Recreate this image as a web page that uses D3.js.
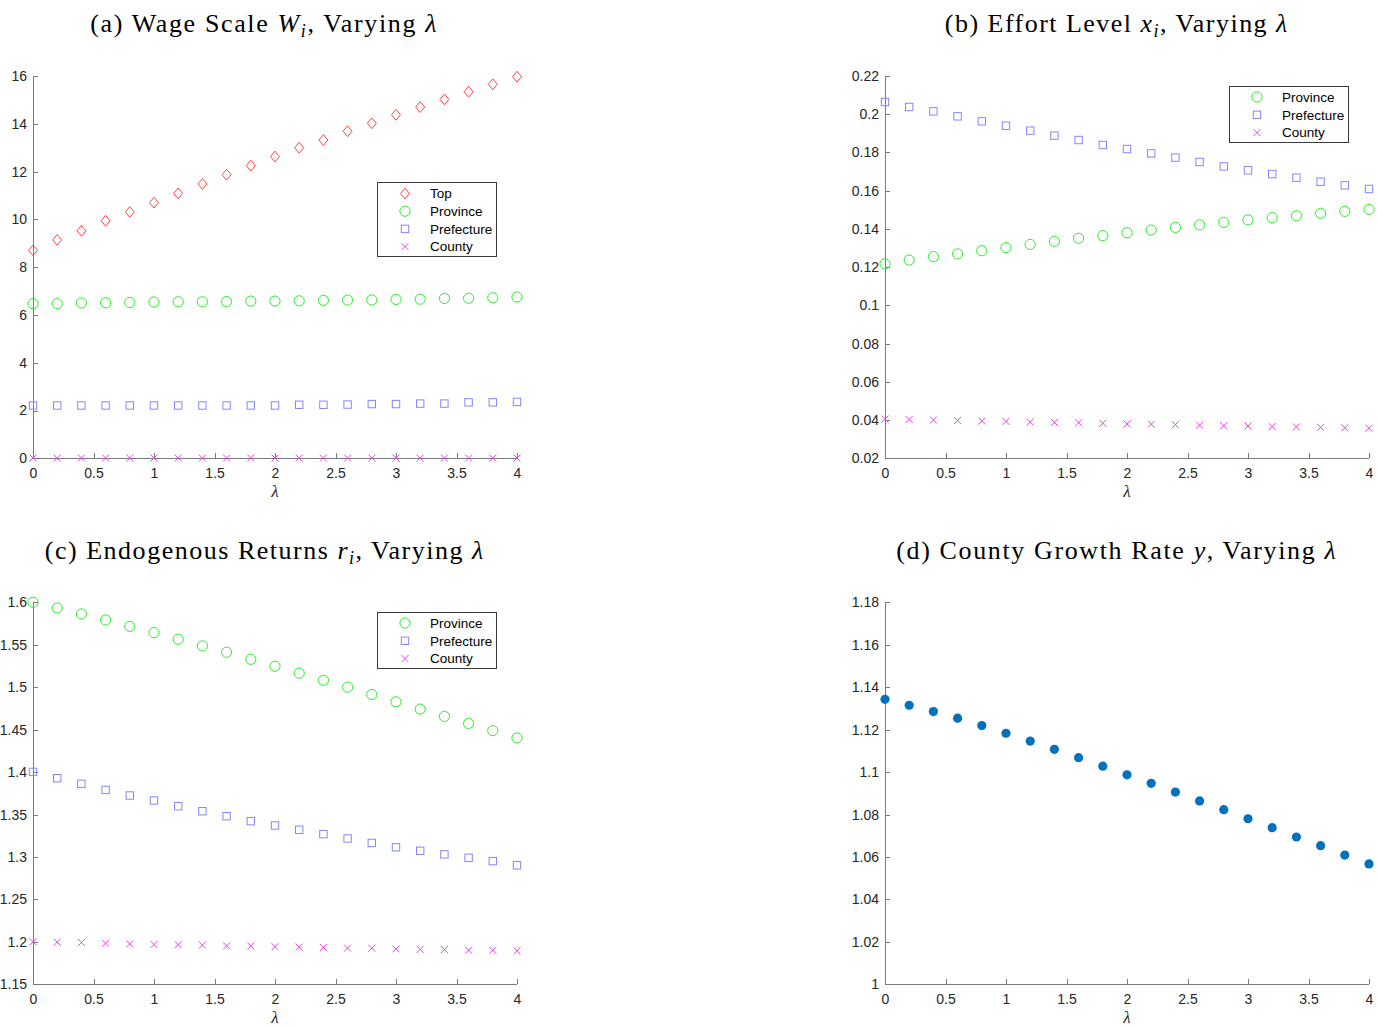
<!DOCTYPE html>
<html>
<head>
<meta charset="utf-8">
<script src="https://cdn.jsdelivr.net/npm/d3@7"></script>
<style>
  html, body { margin: 0; padding: 0; background: #fff; }
  svg { display: block; }
</style>
</head>
<body>
<svg id="chart" width="1378" height="1026"></svg>
<script>
// ---------------- DATA ----------------
const lambda = [0, 0.2, 0.4, 0.6, 0.8, 1.0, 1.2, 1.4, 1.6, 1.8, 2.0, 2.2, 2.4, 2.6, 2.8, 3.0, 3.2, 3.4, 3.6, 3.8, 4.0];

const wageTop        = [8.70, 9.14, 9.52, 9.94, 10.31, 10.70, 11.09, 11.48, 11.87, 12.25, 12.63, 13.00, 13.32, 13.69, 14.02, 14.38, 14.70, 15.02, 15.34, 15.65, 15.97];
const wageProvince   = [6.47, 6.47, 6.50, 6.51, 6.52, 6.54, 6.55, 6.55, 6.56, 6.58, 6.58, 6.59, 6.61, 6.62, 6.63, 6.65, 6.66, 6.69, 6.70, 6.72, 6.75];
const wagePrefecture = [2.21, 2.21, 2.21, 2.21, 2.21, 2.21, 2.21, 2.21, 2.21, 2.21, 2.21, 2.24, 2.24, 2.25, 2.27, 2.27, 2.29, 2.29, 2.34, 2.34, 2.36];
const wageCounty     = [0.01, 0.01, 0.01, 0.01, 0.01, 0.01, 0.01, 0.01, 0.01, 0.01, 0.01, 0.01, 0.01, 0.01, 0.01, 0.01, 0.01, 0.01, 0.01, 0.01, 0.01];

const effortProvince   = [0.1217, 0.1237, 0.1255, 0.1269, 0.1286, 0.1302, 0.1319, 0.1335, 0.1351, 0.1365, 0.1380, 0.1394, 0.1408, 0.1421, 0.1434, 0.1447, 0.1459, 0.1469, 0.1482, 0.1492, 0.1502];
const effortPrefecture = [0.2064, 0.2038, 0.2015, 0.1989, 0.1963, 0.1940, 0.1914, 0.1888, 0.1865, 0.1839, 0.1818, 0.1795, 0.1773, 0.1750, 0.1727, 0.1707, 0.1687, 0.1668, 0.1647, 0.1628, 0.1609];
const effortCounty     = [0.0405, 0.0403, 0.0400, 0.0398, 0.0395, 0.0393, 0.0390, 0.0388, 0.0386, 0.0383, 0.0380, 0.0378, 0.0376, 0.0373, 0.0371, 0.0369, 0.0366, 0.0364, 0.0362, 0.0360, 0.0357];

const returnProvince   = [1.6000, 1.5933, 1.5862, 1.5792, 1.5717, 1.5643, 1.5565, 1.5486, 1.5412, 1.5329, 1.5247, 1.5165, 1.5082, 1.5000, 1.4914, 1.4828, 1.4742, 1.4656, 1.4574, 1.4488, 1.4402];
const returnPrefecture = [1.4002, 1.3928, 1.3861, 1.3790, 1.3724, 1.3665, 1.3598, 1.3539, 1.3480, 1.3422, 1.3371, 1.3320, 1.3269, 1.3218, 1.3165, 1.3114, 1.3073, 1.3031, 1.2990, 1.2951, 1.2902];
const returnCounty     = [1.2000, 1.1996, 1.1992, 1.1984, 1.1976, 1.1969, 1.1967, 1.1961, 1.1953, 1.1951, 1.1943, 1.1938, 1.1933, 1.1926, 1.1924, 1.1918, 1.1911, 1.1909, 1.1902, 1.1900, 1.1894];

const growthCounty = [1.1343, 1.1315, 1.1285, 1.1254, 1.1219, 1.1183, 1.1146, 1.1107, 1.1068, 1.1028, 1.0987, 1.0947, 1.0906, 1.0864, 1.0823, 1.0780, 1.0738, 1.0694, 1.0653, 1.0609, 1.0567];

const xTicks      = [0, 0.5, 1, 1.5, 2, 2.5, 3, 3.5, 4];
const wageTicks   = [0, 2, 4, 6, 8, 10, 12, 14, 16];
const effortTicks = [0.02, 0.04, 0.06, 0.08, 0.1, 0.12, 0.14, 0.16, 0.18, 0.2, 0.22];
const returnTicks = [1.15, 1.2, 1.25, 1.3, 1.35, 1.4, 1.45, 1.5, 1.55, 1.6];
const growthTicks = [1, 1.02, 1.04, 1.06, 1.08, 1.1, 1.12, 1.14, 1.16, 1.18];

const seriesNames = ["Top", "Province", "Prefecture", "County"];

// ---------------- STYLE ----------------
const COLORS = { Top: "#ff4242", Province: "#2cec2c", Prefecture: "#8585ff", County: "#ee3cee", Growth: "#0072bd" };
const SHAPES = { Top: "diamond", Province: "circle", Prefecture: "square", County: "cross", Growth: "dot" };
const TICK_FONT = "'Liberation Sans', Arial, sans-serif";
const SERIF = "'Liberation Serif', 'Times New Roman', serif";

const svg = d3.select("#chart");

function drawMarker(g, shape, cx, cy, color) {
  if (shape === "diamond") {
    g.append("path")
      .attr("d", `M${cx},${cy - 5.4}L${cx + 4.5},${cy}L${cx},${cy + 5.4}L${cx - 4.5},${cy}Z`)
      .attr("fill", "none").attr("stroke", color).attr("stroke-width", 1);
  } else if (shape === "circle") {
    g.append("circle").attr("cx", cx).attr("cy", cy).attr("r", 5.1)
      .attr("fill", "none").attr("stroke", color).attr("stroke-width", 1);
  } else if (shape === "square") {
    g.append("rect").attr("x", cx - 3.7).attr("y", cy - 3.7).attr("width", 7.4).attr("height", 7.4)
      .attr("fill", "none").attr("stroke", color).attr("stroke-width", 1);
  } else if (shape === "cross") {
    const s = 3.5;
    g.append("path")
      .attr("d", `M${cx - s},${cy - s}L${cx + s},${cy + s}M${cx - s},${cy + s}L${cx + s},${cy - s}`)
      .attr("fill", "none").attr("stroke", color).attr("stroke-width", 1);
  } else if (shape === "dot") {
    g.append("circle").attr("cx", cx).attr("cy", cy).attr("r", 4.6).attr("fill", color);
  }
}

function fmt(v) { return String(+v.toFixed(4)); }

function drawTitle(parts, cx, baseline, targetWidth) {
  const t = svg.append("text")
    .attr("x", 0).attr("y", baseline)
    .attr("font-family", SERIF).attr("font-size", 26).attr("fill", "#000");
  parts.forEach(p => {
    const ts = t.append("tspan").text(p.t);
    if (p.it) ts.attr("font-style", "italic");
    if (p.sub) ts.attr("font-size", 18).attr("dy", 5);
    if (p.unsub) ts.attr("dy", -5);
  });
  const w = t.node().getComputedTextLength();
  const n = parts.map(p => p.t).join("").length;
  const ls = Math.max(0, (targetWidth - w) / n);
  t.attr("letter-spacing", ls);
  const w2 = t.node().getBBox().width;
  t.attr("x", cx - w2 / 2);
}

function drawPanel(p) {
  const x = d3.scaleLinear().domain([0, 4]).range([p.x0, p.x1]);
  const y = d3.scaleLinear().domain(p.yDomain).range([p.y1, p.y0]);
  const g = svg.append("g");

  // axes
  const xAxis = d3.axisBottom(x).tickValues(xTicks).tickSize(-5).tickPadding(10).tickFormat(fmt);
  const yAxis = d3.axisLeft(y).tickValues(p.yTicks).tickSize(-5).tickPadding(6).tickFormat(fmt);
  const gx = g.append("g").attr("transform", `translate(0,${p.y1})`).call(xAxis);
  const gy = g.append("g").attr("transform", `translate(${p.x0},0)`).call(yAxis);
  [gx, gy].forEach(a => {
    a.select(".domain").attr("stroke", "#7a7a7a").attr("stroke-width", 1).attr("shape-rendering", "crispEdges");
    a.selectAll(".tick line").attr("stroke", "#7a7a7a").attr("stroke-width", 1).attr("shape-rendering", "crispEdges");
    a.selectAll(".tick text").attr("fill", "#262626").attr("font-family", TICK_FONT).attr("font-size", 14);
  });
  gx.select(".domain").attr("d", `M${p.x0},0H${p.x1}`);
  gy.select(".domain").attr("d", `M0,${p.y1}V${p.y0}`);

  // x label
  g.append("text").attr("x", (p.x0 + p.x1) / 2).attr("y", p.y1 + 39)
    .attr("text-anchor", "middle").attr("font-family", SERIF).attr("font-style", "italic")
    .attr("font-size", 17).attr("fill", "#262626").text("λ");

  // markers
  const mg = g.append("g");
  p.series.forEach(s => {
    s.values.forEach((v, i) => drawMarker(mg, SHAPES[s.name], x(lambda[i]), y(v), COLORS[s.name]));
  });

  // legend
  if (p.legend) {
    const L = p.legend;
    const lg = g.append("g");
    lg.append("rect").attr("x", L.x).attr("y", L.y).attr("width", L.w).attr("height", L.h)
      .attr("fill", "#fff").attr("stroke", "#3a3a3a").attr("stroke-width", 1).attr("shape-rendering", "crispEdges");
    p.series.forEach((s, i) => {
      const cy = L.y + L.first + i * L.step;
      drawMarker(lg, SHAPES[s.name], L.x + 27.5, cy, COLORS[s.name]);
      lg.append("text").attr("x", L.x + 52.5).attr("y", cy).attr("dy", "0.35em")
        .attr("font-family", TICK_FONT).attr("font-size", 13.5).attr("fill", "#000").text(s.name);
    });
  }
}

const panels = [
  { x0: 33, x1: 517, y0: 76, y1: 458.3, yDomain: [0, 16], yTicks: wageTicks,
    series: [{ name: "Top", values: wageTop }, { name: "Province", values: wageProvince },
             { name: "Prefecture", values: wagePrefecture }, { name: "County", values: wageCounty }],
    legend: { x: 377.5, y: 182.5, w: 118.5, h: 73.5, first: 11, step: 17.7 } },
  { x0: 885, x1: 1369, y0: 76, y1: 458.3, yDomain: [0.02, 0.22], yTicks: effortTicks,
    series: [{ name: "Province", values: effortProvince },
             { name: "Prefecture", values: effortPrefecture }, { name: "County", values: effortCounty }],
    legend: { x: 1229.5, y: 86.5, w: 118.5, h: 56, first: 10.5, step: 17.8 } },
  { x0: 33, x1: 517, y0: 602.3, y1: 984.3, yDomain: [1.15, 1.6], yTicks: returnTicks,
    series: [{ name: "Province", values: returnProvince },
             { name: "Prefecture", values: returnPrefecture }, { name: "County", values: returnCounty }],
    legend: { x: 377.5, y: 612.5, w: 118.5, h: 56, first: 10.5, step: 17.8 } },
  { x0: 885, x1: 1369, y0: 602.3, y1: 984.3, yDomain: [1, 1.18], yTicks: growthTicks,
    series: [{ name: "Growth", values: growthCounty }], legend: null }
];

panels.forEach(drawPanel);

drawTitle([{ t: "(a) Wage Scale " }, { t: "W", it: true }, { t: "i", it: true, sub: true }, { t: ", Varying ", unsub: true }, { t: "λ", it: true }], 264.2, 32, 348);
drawTitle([{ t: "(b) Effort Level " }, { t: "x", it: true }, { t: "i", it: true, sub: true }, { t: ", Varying ", unsub: true }, { t: "λ", it: true }], 1116.8, 32, 344);
drawTitle([{ t: "(c) Endogenous Returns " }, { t: "r", it: true }, { t: "i", it: true, sub: true }, { t: ", Varying ", unsub: true }, { t: "λ", it: true }], 264.8, 558.5, 440);
drawTitle([{ t: "(d) County Growth Rate " }, { t: "y", it: true }, { t: ", Varying " }, { t: "λ", it: true }], 1116.8, 558.5, 441);
</script>
</body>
</html>
